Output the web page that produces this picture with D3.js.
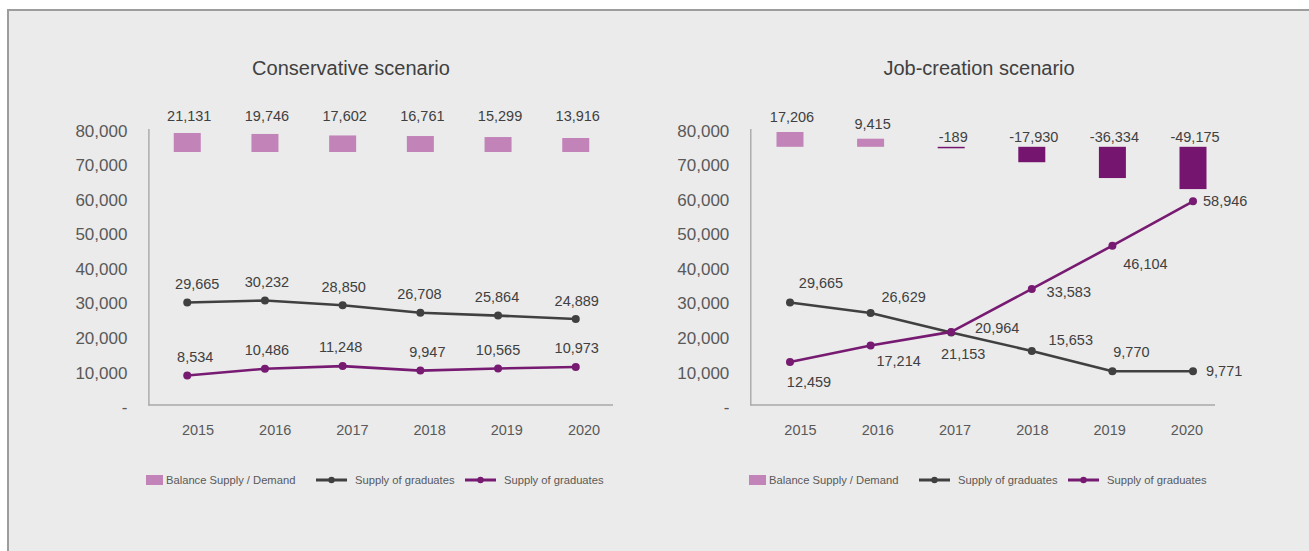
<!DOCTYPE html>
<html>
<head>
<meta charset="utf-8">
<script src="https://cdn.jsdelivr.net/npm/d3@7"></script>
<style>
  html, body { margin: 0; padding: 0; background: #ffffff; }
  svg { display: block; font-family: "Liberation Sans", Arial, Helvetica, sans-serif; }
</style>
</head>
<body>
<svg id="chart" width="1309" height="551"></svg>
<script>
// ---- Data ----
const years = ["2015", "2016", "2017", "2018", "2019", "2020"];

const conservativeBalance = [21131, 19746, 17602, 16761, 15299, 13916];
const conservativeSupplyDark = [29665, 30232, 28850, 26708, 25864, 24889];
const conservativeSupplyPurple = [8534, 10486, 11248, 9947, 10565, 10973];

const jobBalance = [17206, 9415, -189, -17930, -36334, -49175];
const jobSupplyDark = [29665, 26629, 20964, 15653, 9770, 9771];
const jobSupplyPurple = [12459, 17214, 21153, 33583, 46104, 58946];

const yTickValues = [0, 10000, 20000, 30000, 40000, 50000, 60000, 70000, 80000];
const chartTitles = ["Conservative scenario", "Job-creation scenario"];
const legendLabels = ["Balance Supply / Demand", "Supply of graduates", "Supply of graduates"];

// ---- Styling ----
const COLORS = {
  panel: "#ebebeb",
  panelBorder: "#9d9d9d",
  dark: "#404040",
  purple: "#771a72",
  barPos: "#c283b9",
  barNeg: "#761570",
  axis: "#a8a8a8",
  tick: "#595959",
  label: "#404040",
  title: "#404040"
};
const FONT = '"Liberation Sans", Arial, Helvetica, sans-serif';

// Thousands separator with a plain hyphen for negatives
const locale = d3.formatLocale({
  decimal: ".", thousands: ",", grouping: [3], currency: ["", ""], minus: "-"
});
const fmt = locale.format(",");
const tickFmt = v => (v === 0 ? "-" : fmt(v));

const svg = d3.select("#chart");

// Grey panel behind both charts
svg.append("rect")
  .attr("x", 8).attr("y", 10)
  .attr("width", 1320).attr("height", 560)
  .attr("fill", COLORS.panel)
  .attr("stroke", COLORS.panelBorder)
  .attr("stroke-width", 2);

const Y_TOP = 128.5, Y_BOTTOM = 405;

function drawPanel(cfg) {
  const g = svg.append("g");

  const y = d3.scaleLinear().domain([0, 80000]).range([Y_BOTTOM, Y_TOP]);
  const xMark = d3.scaleBand().domain(years).range(cfg.markRange);
  const xTick = d3.scaleBand().domain(years).range(cfg.tickRange);
  const y2 = d3.scaleLinear().domain(cfg.y2Domain).range(cfg.y2Range);
  const cx = yr => xMark(yr) + xMark.bandwidth() / 2;

  // Title
  g.append("text")
    .attr("x", cfg.titleX).attr("y", 75)
    .attr("text-anchor", "middle")
    .attr("font-size", 20)
    .attr("fill", COLORS.title)
    .text(cfg.title);

  // Left value axis
  const yAxis = d3.axisLeft(y)
    .tickValues(yTickValues)
    .tickFormat(tickFmt)
    .tickSize(0)
    .tickSizeOuter(0)
    .tickPadding(21);
  const ya = g.append("g")
    .attr("transform", `translate(${cfg.x0},0)`)
    .call(yAxis)
    .attr("font-family", FONT)
    .attr("font-size", 17);
  ya.select(".domain").attr("stroke", COLORS.axis).attr("stroke-width", 1.4);
  ya.selectAll(".tick text")
    .attr("fill", COLORS.tick)
    .attr("y", 1.5)
    .attr("dy", "0.36em");

  // Category axis baseline
  g.append("line")
    .attr("x1", cfg.x0).attr("x2", cfg.axisEnd)
    .attr("y1", Y_BOTTOM).attr("y2", Y_BOTTOM)
    .attr("stroke", COLORS.axis).attr("stroke-width", 1.4);

  // Category labels
  const xa = g.append("g")
    .attr("transform", `translate(0,${Y_BOTTOM})`)
    .call(d3.axisBottom(xTick).tickSize(0).tickPadding(20))
    .attr("font-family", FONT)
    .attr("font-size", 14.5);
  xa.select(".domain").remove();
  xa.selectAll(".tick text").attr("fill", COLORS.tick);

  // Balance bars (secondary scale)
  const balance = years.map((yr, i) => ({ yr, v: cfg.balance[i] }));
  const base = y2(cfg.barBase);
  g.selectAll("rect.bar")
    .data(balance)
    .join("rect")
    .attr("class", "bar")
    .attr("x", d => cx(d.yr) - cfg.barWidth / 2)
    .attr("width", cfg.barWidth)
    .attr("y", d => Math.min(y2(d.v), base))
    .attr("height", d => Math.max(Math.abs(y2(d.v) - base), 1.5))
    .attr("fill", d => (d.v >= 0 ? COLORS.barPos : COLORS.barNeg));

  g.selectAll("text.barlabel")
    .data(balance)
    .join("text")
    .attr("class", "barlabel")
    .attr("x", d => cx(d.yr) + 2)
    .attr("y", d => cfg.barLabelY(d.v, y2))
    .attr("dy", "0.36em")
    .attr("text-anchor", "middle")
    .attr("font-size", 14.5)
    .attr("fill", COLORS.label)
    .text(d => fmt(d.v));

  // Supply lines
  const line = d3.line().x(d => cx(d.yr)).y(d => y(d.v));
  const series = [
    { values: cfg.dark, color: COLORS.dark, nudges: cfg.darkLabels },
    { values: cfg.purple, color: COLORS.purple, nudges: cfg.purpleLabels }
  ];
  series.forEach(s => {
    const pts = years.map((yr, i) => ({ yr, v: s.values[i], n: s.nudges[i] }));
    g.append("path")
      .datum(pts)
      .attr("d", line)
      .attr("fill", "none")
      .attr("stroke", s.color)
      .attr("stroke-width", 2.6)
      .attr("stroke-linejoin", "round");
    g.append("g").selectAll("circle")
      .data(pts)
      .join("circle")
      .attr("cx", d => cx(d.yr))
      .attr("cy", d => y(d.v))
      .attr("r", 4)
      .attr("fill", s.color);
    s.pointsData = pts;
  });
  series.forEach(s => {
    g.append("g").selectAll("text")
      .data(s.pointsData)
      .join("text")
      .attr("x", d => cx(d.yr) + d.n[0])
      .attr("y", d => y(d.v) + d.n[1])
      .attr("dy", "0.36em")
      .attr("text-anchor", d => d.n[2] || "middle")
      .attr("font-size", 14.5)
      .attr("fill", COLORS.label)
      .text(d => fmt(d.v));
  });

  // Legend
  const lg = g.append("g").attr("transform", `translate(${cfg.legendX},480)`)
    .attr("font-size", 11.2).attr("fill", COLORS.tick);
  lg.append("rect").attr("x", 0).attr("y", -5).attr("width", 17).attr("height", 10)
    .attr("fill", COLORS.barPos);
  lg.append("text").attr("x", 20).attr("dy", "0.35em").text(legendLabels[0]);
  [[170, COLORS.dark, legendLabels[1]], [319, COLORS.purple, legendLabels[2]]].forEach(([ox, color, label]) => {
    lg.append("line").attr("x1", ox).attr("x2", ox + 31).attr("y1", 0).attr("y2", 0)
      .attr("stroke", color).attr("stroke-width", 3);
    lg.append("circle").attr("cx", ox + 15.5).attr("cy", 0).attr("r", 3.2).attr("fill", color);
    lg.append("text").attr("x", ox + 39).attr("dy", "0.35em").text(label);
  });
}

// Conservative scenario
drawPanel({
  title: chartTitles[0],
  titleX: 351,
  x0: 148.4,
  axisEnd: 613,
  markRange: [148.4, 614.6],
  tickRange: [159.4, 622.6],
  balance: conservativeBalance,
  dark: conservativeSupplyDark,
  purple: conservativeSupplyPurple,
  y2Domain: [-6300, 21131],
  y2Range: [152, 133],
  barBase: -6300,
  barWidth: 27,
  barLabelY: (v, y2) => y2(d3.max(conservativeBalance)) - 17,
  darkLabels: [[10, -19], [2, -19], [1, -19], [-1, -18.5], [-1, -18.5], [1, -18.5]],
  purpleLabels: [[8, -19], [2, -19], [-2, -19], [7, -19], [0, -19], [1, -19]],
  legendX: 146
});

// Job-creation scenario
drawPanel({
  title: chartTitles[1],
  titleX: 979,
  x0: 750.3,
  axisEnd: 1215,
  markRange: [749.7, 1233.3],
  tickRange: [761.8, 1225.6],
  balance: jobBalance,
  dark: jobSupplyDark,
  purple: jobSupplyPurple,
  y2Domain: [-50000, 20000],
  y2Range: [189.8, 129.6],
  barBase: 0,
  barWidth: 27,
  barLabelY: (v, y2) => (v >= 0 ? y2(v) - 15 : y2(0) - 10),
  darkLabels: [[31, -20], [33, -16], [46, -5], [39, -11], [19, -19], [13, 0, "start"]],
  purpleLabels: [[19, 20], [28, 15], [12, 22], [37, 3], [33, 18], [10, 0, "start"]],
  legendX: 749
});
</script>
</body>
</html>
